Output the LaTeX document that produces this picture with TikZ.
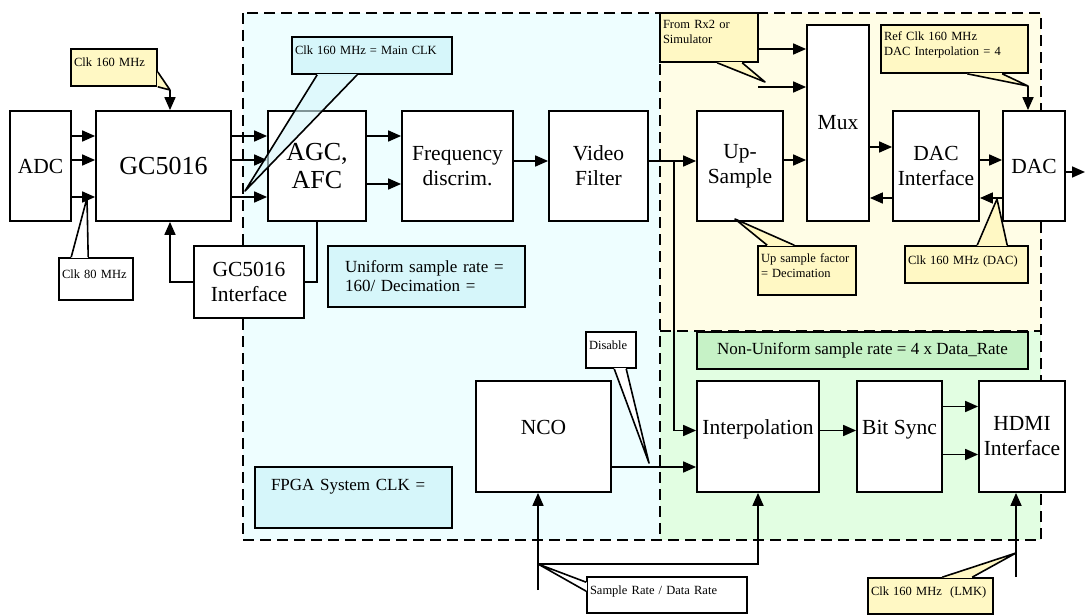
\documentclass[tikz,border=0pt]{standalone}
\usepackage{fontspec}
\setmainfont{Liberation Serif}
\usetikzlibrary{arrows.meta}
\definecolor{fpgacyan}{HTML}{EEFEFF}
\definecolor{dacyellow}{HTML}{FFFDE6}
\definecolor{syncgreen}{HTML}{E2FEE2}
\definecolor{noteyellow}{HTML}{FFF8C4}
\definecolor{notecyan}{HTML}{D6F6FA}
\definecolor{rategreen}{HTML}{C6F2C6}
\newcommand{\blockfont}{\fontsize{21.5}{25}\selectfont}
\newcommand{\bigblockfont}{\fontsize{26}{28}\selectfont}
\newcommand{\notefont}{\fontsize{12.5}{15}\selectfont}
\newcommand{\ratefont}{\fontsize{17}{19}\selectfont}
\tikzset{
    block-box/.style = {draw, line width=1.8pt, fill=white, rectangle, align=center, font=\blockfont, inner sep=1pt, minimum height=110pt},
    raised-text/.style = {text height=15pt, text depth=20pt},
    note-box/.style = {draw, line width=1.6pt, fill=noteyellow, rectangle, align=left, font=\notefont, inner xsep=3pt, inner ysep=0pt, text height=9pt, text depth=10pt},
    two-line/.style = {text depth=26pt},
    rate-box/.style = {draw, line width=1.8pt, fill=notecyan, rectangle, font=\ratefont, minimum width=197pt, minimum height=61pt},
    note-edge/.style = {draw, line width=1.6pt, line join=round},
    region-line/.style = {line width=2pt, dash pattern=on 11pt off 6pt},
    flow-line/.style = {line width=1.7pt},
    flow-arrow/.style = {line width=1.7pt, -{Triangle[length=13pt,width=11pt]}},
}
% tail of a callout: [fill options]{colour}{base}{tip}{base}
\newcommand{\notetail}[5][]{%
    \fill[#2, #1] (#3) -- (#4) -- (#5) -- cycle;
    \draw[#2, line width=2.2pt] (#3) -- (#5);
    \draw[note-edge] (#3) -- (#4) -- (#5);}

\begin{document}
\begin{tikzpicture}[x=1pt, y=-1pt]
\useasboundingbox (0,0) rectangle (1086,615);

% clock domains
\fill[fpgacyan] (243,13) rectangle (660,540);
\fill[dacyellow] (660,13) rectangle (1041,331);
\fill[syncgreen] (660,331) rectangle (1041,540);
\draw[region-line] (243,13) rectangle (1041,540);
\draw[region-line] (660,13) -- (660,540);
\draw[region-line] (660,331) -- (1041,331);

% receive chain
\node[block-box, minimum width=61pt] (adc) at (40.5,166) {ADC};
\node[block-box, minimum width=135pt, font=\bigblockfont] (gc) at (163.5,166) {GC5016};
\node[block-box, minimum width=98pt, font=\bigblockfont] (agc) at (317,166) {AGC,\\AFC};
\node[block-box, minimum width=111pt] (freq) at (457.5,166) {Frequency\\discrim.};
\node[block-box, minimum width=99pt] (video) at (598.5,166) {Video\\Filter};
\node[block-box, minimum width=86pt] (upsample) at (740,166) {Up-\\Sample};
\node[block-box, minimum width=62pt, minimum height=196pt] (mux) at (838,123) {Mux};
\node[block-box, minimum width=86pt] (dacif) at (936,166) {DAC\\Interface};
\node[block-box, minimum width=62pt] (dac) at (1034,166) {DAC};
\node[block-box, minimum width=110pt, minimum height=72pt] (gcif) at (249,282) {GC5016\\Interface};

% bit sync chain
\node[block-box, raised-text, minimum width=135pt, minimum height=111pt] (nco) at (543.5,436.5) {NCO};
\node[block-box, raised-text, minimum width=122pt, minimum height=111pt] (interp) at (758,436.5) {Interpolation};
\node[block-box, raised-text, minimum width=85pt, minimum height=111pt] (bitsync) at (899.5,436.5) {Bit Sync};
\node[block-box, minimum width=86pt, minimum height=111pt] (hdmi) at (1022,436.5) {HDMI\\Interface};

% rates
\node[rate-box, text width=163pt, align=left] (uniform) at (426.5,276.5) {Uniform sample rate =\\160/ Decimation =};
\node[rate-box, text width=165pt, align=left, text depth=25pt] (fpga) at (353.5,497.5) {FPGA System CLK =};
\node[rate-box, fill=rategreen, minimum width=331pt, minimum height=37pt] (nonuni) at (862.5,350.5) {Non-Uniform sample rate = 4 x Data\_Rate};

% notes
\node[note-box, text width=80pt, minimum height=37pt] (clkgc) at (114,67.5) {Clk 160 MHz};
\node[note-box, fill=white, text width=68pt, minimum height=42pt] (clkadc) at (96,279) {Clk 80 MHz};
\node[note-box, fill=notecyan, text width=154pt, minimum height=37pt] (mainclk) at (372,55.5) {Clk 160 MHz = Main CLK};
\node[note-box, two-line, text width=92pt, minimum height=49pt] (rxsrc) at (709,37.5) {From Rx2 or\\Simulator};
\node[note-box, two-line, text width=141pt, minimum height=48pt] (refclk) at (954.5,49) {Ref Clk 160 MHz\\DAC Interpolation = 4};
\node[note-box, text width=117pt, minimum height=37pt] (dacclk) at (966.5,264.5) {Clk 160 MHz (DAC)};
\node[note-box, two-line, text width=92pt, minimum height=49pt] (upfactor) at (807,270.5) {Up sample factor\\= Decimation};
\node[note-box, fill=white, text width=44pt, minimum height=36pt] (disable) at (611,350) {Disable};
\node[note-box, fill=white, text width=154pt, minimum height=36pt] (srate) at (667,595) {Sample Rate / Data Rate};
\node[note-box, text width=119pt, minimum height=36pt] (lmk) at (930.5,596) {Clk 160 MHz~~(LMK)};

\coordinate (clkgctip) at (170,90);
\coordinate (clkadctip) at (87,198);
\coordinate (mainclktip) at (245,191);
\coordinate (rxsrctip) at (765,82);
\coordinate (rxfeed) at (758,87);
\coordinate (refclktip) at (1028,86);
\coordinate (dacclktip) at (997,199);
\coordinate (upfactortip) at (735,219);
\coordinate (disabletip) at (649,463);
\coordinate (ratesplit) at (538,564);
\coordinate (ratefeed) at (538,590);
\coordinate (lmkfeed) at (1016,577);
\coordinate (lmktip) at (1016,553);
\coordinate (dacout) at (1085,172);
\coordinate (vsplit) at ([xshift=25pt,yshift=5pt]video.east);

% signal flow
\draw[flow-arrow] ([yshift=30pt]adc.east) -- ([yshift=30pt]gc.west);
\draw[flow-arrow] ([yshift=6pt]adc.east) -- ([yshift=6pt]gc.west);
\draw[flow-arrow] ([yshift=-31pt]adc.east) -- ([yshift=-31pt]gc.west);
\draw[flow-arrow] ([yshift=30pt]gc.east) -- ([yshift=30pt]agc.west);
\draw[flow-arrow] ([yshift=6pt]gc.east) -- ([yshift=6pt]agc.west);
\draw[flow-arrow] ([yshift=-31pt]gc.east) -- ([yshift=-31pt]agc.west);
\draw[flow-arrow] ([yshift=30pt]agc.east) -- ([yshift=30pt]freq.west);
\draw[flow-arrow] ([yshift=-18pt]agc.east) -- ([yshift=-18pt]freq.west);
\draw[flow-arrow] ([yshift=5pt]freq.east) -- ([yshift=5pt]video.west);
\draw[flow-arrow] ([yshift=5pt]video.east) -- ([yshift=5pt]upsample.west);
\draw[flow-arrow] (vsplit) |- ([yshift=6pt]interp.west);
\draw[flow-arrow] ([yshift=6pt]upsample.east) -- ([yshift=6pt]upsample.east -| mux.west);
\draw[flow-arrow] ([yshift=-11.5pt]rxsrc.east) -- ([yshift=-11.5pt]rxsrc.east -| mux.west);
\draw[flow-arrow] (rxfeed) -- (rxfeed -| mux.west);
\draw[flow-arrow] ([yshift=19pt]dacif.west -| mux.east) -- ([yshift=19pt]dacif.west);
\draw[flow-arrow] ([yshift=-32pt]dacif.west) -- ([yshift=-32pt]dacif.west -| mux.east);
\draw[flow-arrow] ([yshift=6pt]dacif.east) -- ([yshift=6pt]dac.west);
\draw[flow-arrow] ([yshift=-32pt]dac.west) -- ([yshift=-32pt]dacif.east);
\draw[flow-arrow] ([yshift=-6pt]dac.east) -- (dacout);
\draw[flow-arrow] (refclktip) -- (refclktip |- dac.north);
\draw[flow-arrow] (clkgctip) -- (clkgctip |- gc.north);
\draw[flow-arrow] (gcif.west) -| ([xshift=6.5pt]gc.south);
\draw[flow-line] (agc.south) |- (gcif.east);
\draw[flow-arrow] ([yshift=-30.5pt]nco.east) -- ([yshift=-30.5pt]nco.east -| interp.west);
\draw[flow-arrow] ([yshift=6pt]interp.east) -- ([yshift=6pt]bitsync.west);
\draw[flow-arrow] ([yshift=30pt]bitsync.east) -- ([yshift=30pt]hdmi.west);
\draw[flow-arrow] ([yshift=-18pt]bitsync.east) -- ([yshift=-18pt]hdmi.west);
\draw[flow-arrow] (ratefeed) -- (ratefeed |- nco.south);
\draw[flow-arrow] (ratesplit) -| (interp.south);
\draw[flow-arrow] (lmkfeed) -- (lmkfeed |- hdmi.south);

% callout tails
\notetail{noteyellow}{[yshift=-4.5pt]clkgc.east}{clkgctip}{clkgc.south east}
\notetail{white}{[xshift=13pt]clkadc.north west}{clkadctip}{[xshift=30pt]clkadc.north west}
\notetail[fill opacity=.6]{notecyan}{[xshift=26pt]mainclk.south west}{mainclktip}{[xshift=66pt]mainclk.south west}
\notetail{noteyellow}{[xshift=58pt]rxsrc.south west}{rxsrctip}{[xshift=83pt]rxsrc.south west}
\notetail{noteyellow}{[xshift=87pt]refclk.south west}{refclktip}{[xshift=122pt]refclk.south west}
\notetail{noteyellow}{[xshift=73pt]dacclk.north west}{dacclktip}{[xshift=103pt]dacclk.north west}
\notetail{noteyellow}{[xshift=10pt]upfactor.north west}{upfactortip}{[xshift=37pt]upfactor.north west}
\notetail{white}{[xshift=29pt]disable.south west}{disabletip}{[xshift=41pt]disable.south west}
\notetail{white}{[yshift=-6pt]srate.north west}{ratesplit}{[yshift=-15pt]srate.north west}
\notetail{noteyellow}{[xshift=75pt]lmk.north west}{lmktip}{[xshift=105pt]lmk.north west}
\end{tikzpicture}
\end{document}
